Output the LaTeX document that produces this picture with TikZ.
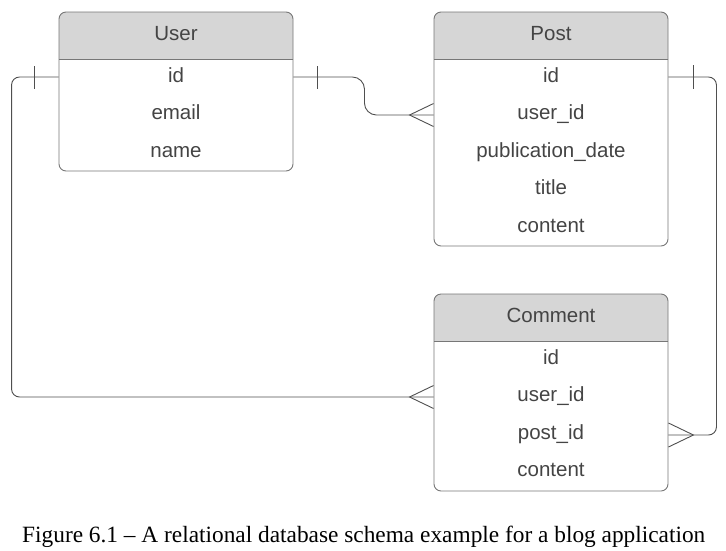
\documentclass[tikz,border=0pt]{standalone}
\usepackage{fontspec}
\setmainfont{Liberation Serif}
\newfontfamily\boxfont{Liberation Sans}
\usetikzlibrary{calc}
\definecolor{txtgray}{HTML}{444444}
\definecolor{bordgray}{HTML}{777777}
\definecolor{headgray}{HTML}{D6D6D6}
\definecolor{linegray}{HTML}{4F4F4F}
\tikzset{
  tablebox/.style={draw=bordgray, line width=0.9pt, rounded corners=7pt, inner sep=0pt},
  rowtext/.style={anchor=base, text=txtgray, font=\boxfont\fontsize{20.5}{24}\selectfont, inner sep=0pt},
  conn/.style={draw=linegray, line width=0.9pt},
}
\begin{document}
\begin{tikzpicture}[x=1pt,y=-1pt]
\useasboundingbox (0,0) rectangle (726,550);
% ---- headers
\foreach \xa/\ya/\xb/\yb/\yh in {59/12/293/171/59, 434/12/668/246/59, 434/294/668/491/341}{
  \begin{scope}
    \clip (\xa,\ya) rectangle (\xb,\yh);
    \fill[headgray, rounded corners=7pt] (\xa,\ya) rectangle (\xb,\yb);
  \end{scope}
  \draw[bordgray, line width=0.7pt] (\xa,\yh) -- (\xb,\yh);
}
% ---- table boxes
\node[tablebox, minimum width=234pt, minimum height=159pt] (user) at (176,91.5) {};
\node[tablebox, minimum width=234pt, minimum height=234pt] (post) at (551,129) {};
\node[tablebox, minimum width=234pt, minimum height=197pt] (comment) at (551,392.5) {};
% ---- User
\node[rowtext] (uhead) at (176,40) {User};
\node[rowtext] (uid) at (176,82) {id};
\node[rowtext] (uemail) at (176,119.5) {email};
\node[rowtext] (uname) at (176,157) {name};
% ---- Post
\node[rowtext] (phead) at (551,40) {Post};
\node[rowtext] (pid) at (551,82) {id};
\node[rowtext] (puser) at (551,119.5) {user\_id};
\node[rowtext] (pdate) at (551,157) {publication\_date};
\node[rowtext] (ptitle) at (551,194.5) {title};
\node[rowtext] (pcontent) at (551,232) {content};
% ---- Comment
\node[rowtext] (chead) at (551,322) {Comment};
\node[rowtext] (cid) at (551,364) {id};
\node[rowtext] (cuser) at (551,401.5) {user\_id};
\node[rowtext] (cpost) at (551,439) {post\_id};
\node[rowtext] (ccontent) at (551,476) {content};
% ---- anchor points
\coordinate (uidL) at ($(user.west |- uid.base)+(0,-5)$);
\coordinate (uidR) at ($(user.east |- uid.base)+(0,-5)$);
\coordinate (pidR) at ($(post.east |- pid.base)+(0,-5)$);
\coordinate (puserL) at ($(post.west |- puser.base)+(0,-4.5)$);
\coordinate (cuserL) at ($(comment.west |- cuser.base)+(0,-4.5)$);
\coordinate (cpostR) at ($(comment.east |- cpost.base)+(0,-4)$);
% ---- User.id -> Comment.user_id
\draw[conn, rounded corners=8pt] (uidL) -- ++(-47,0) |- (cuserL);
\draw[conn] ($(uidL)+(-24,-11)$) -- ($(uidL)+(-24,12)$);
\draw[conn] ($(cuserL)+(0,-11.5)$) -- ($(cuserL)+(-24,0)$) -- ($(cuserL)+(0,11.5)$);
% ---- User.id -> Post.user_id
\draw[conn, rounded corners=12pt] (uidR) -- ++(71,0) |- (puserL);
\draw[conn] ($(uidR)+(24,-11)$) -- ($(uidR)+(24,12)$);
\draw[conn] ($(puserL)+(0,-11.5)$) -- ($(puserL)+(-24,0)$) -- ($(puserL)+(0,11.5)$);
% ---- Post.id -> Comment.post_id
\draw[conn, rounded corners=8pt] (pidR) -- ++(48,0) |- (cpostR);
\draw[conn] ($(pidR)+(25,-12)$) -- ($(pidR)+(25,12)$);
\draw[conn] ($(cpostR)+(0,-12)$) -- ($(cpostR)+(25,0)$) -- ($(cpostR)+(0,12)$);
% ---- caption
\node[anchor=base west, inner sep=0pt] (caption) at (22,542) {\resizebox{683pt}{!}{Figure 6.1 – A relational database schema example for a blog application}};
\end{tikzpicture}
\end{document}
